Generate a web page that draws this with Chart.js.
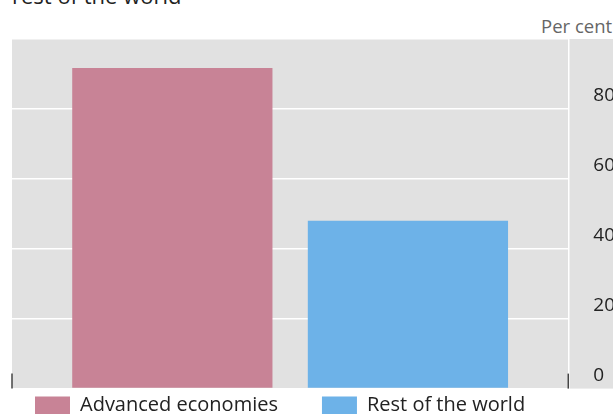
<!DOCTYPE html>
<html>
<head>
<meta charset="utf-8">
<script src="https://cdn.jsdelivr.net/npm/chart.js@4/dist/chart.umd.min.js"></script>
<style>
  html, body { margin: 0; padding: 0; background: #fff; overflow: hidden; }
  #wrap { position: relative; width: 640px; height: 425px; }
  #titulo { position: absolute; left: 12px; top: -16px; font: 22px/22px 'Open Sans', sans-serif; color: #222; white-space: nowrap; }
  #unidade { position: absolute; left: 541px; top: 15px; font: 18.5px/22px 'Open Sans', sans-serif; color: #666; white-space: nowrap; }
  canvas { position: absolute; left: 0; top: 0; }
</style>
</head>
<body>
<div id="wrap">
  <div id="titulo">rest of the world</div>
  <div id="unidade">Per cent</div>
  <canvas id="grafico" width="640" height="425"></canvas>
</div>
<script>
const categorias = [''];
const series = ['Advanced economies', 'Rest of the world'];
const valores = [91.7, 48];
const cores = ['#c88396', '#6db2e8'];
const ticksY = [0, 20, 40, 60, 80];

// fundo cinza ate a borda direita (inclui a coluna dos rotulos)
const fundo = {
  id: 'fundo',
  beforeDraw(chart) {
    const { ctx, chartArea: a, width } = chart;
    ctx.save();
    ctx.fillStyle = '#e1e1e1';
    ctx.fillRect(a.left, a.top, width - a.left, a.bottom - a.top);
    ctx.restore();
  },
  afterLayout(chart) {
    // legenda logo abaixo da area; o padding dos itens fica so no espaco horizontal
    const lg = chart.legend;
    const pad = lg.options.labels.padding;
    lg.top = chart.chartArea.bottom + 7 - pad;
    lg.bottom = chart.height;
    lg.left = chart.chartArea.left + 23 - pad;
  },
  afterDraw(chart) {
    const { ctx, chartArea: a } = chart;
    ctx.save();
    ctx.strokeStyle = '#444';
    ctx.lineWidth = 1.5;
    [a.left, a.right].forEach(x => {
      ctx.beginPath();
      ctx.moveTo(x, a.bottom - 15);
      ctx.lineTo(x, a.bottom);
      ctx.stroke();
    });
    ctx.restore();
  }
};

new Chart(document.getElementById('grafico'), {
  type: 'bar',
  data: {
    labels: categorias,
    datasets: series.map((nome, i) => ({
      label: nome,
      data: [valores[i]],
      backgroundColor: cores[i],
      barPercentage: 0.85,
      categoryPercentage: 0.847,
    }))
  },
  options: {
    responsive: false,
    animation: false,
    layout: { padding: { left: 12, top: 39, right: 0, bottom: 0 } },
    plugins: {
      tooltip: { enabled: false },
      legend: {
        position: 'bottom',
        align: 'start',
        maxHeight: 26,
        labels: {
          boxWidth: 35,
          boxHeight: 18,
          padding: 44,
          color: '#222',
          font: { family: 'Open Sans', size: 20 },
        },
      },
    },
    scales: {
      x: { display: false },
      y: {
        position: 'right',
        min: 0,
        max: 100,
        grid: { color: '#fff', lineWidth: 1.5, drawTicks: false },
        border: { display: true, color: '#fff', width: 1.5 },
        ticks: {
          stepSize: 20,
          padding: 25,
          labelOffset: -13,
          color: '#222',
          font: { family: 'Open Sans', size: 19 },
          callback: v => ticksY.includes(v) ? v : '',
        },
      },
    },
  },
  plugins: [fundo],
});
</script>
</body>
</html>
